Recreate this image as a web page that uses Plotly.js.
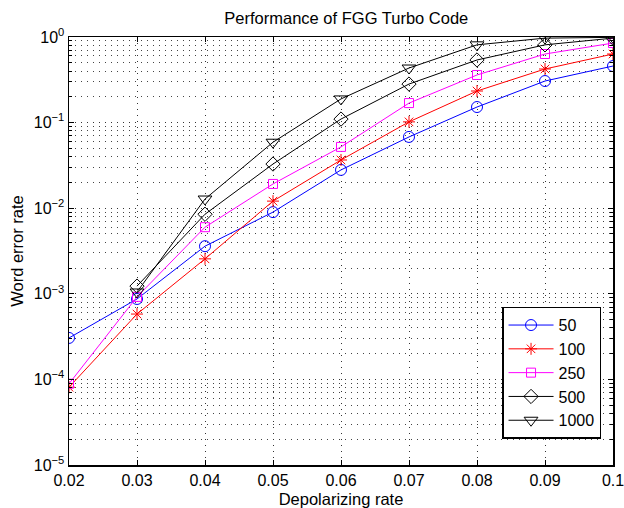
<!DOCTYPE html>
<html><head><meta charset="utf-8">
<script src="https://cdn.plot.ly/plotly-3.0.1.min.js"></script>
<style>body{margin:0;background:#fff}#c{width:624px;height:508px}</style>
</head><body><div id="c"></div>
<script>
var depolRate = [0.02, 0.03, 0.04, 0.05, 0.06, 0.07, 0.08, 0.09, 0.10];
var wer50   = [3.05e-4, 8.7e-4, 3.6e-3, 9.0e-3, 0.028, 0.068, 0.152, 0.306, 0.458];
var wer100  = [8.1e-5, 5.8e-4, 2.56e-3, 0.0121, 0.0366, 0.102, 0.234, 0.423, 0.633];
var wer250  = [8.9e-5, 9.2e-4, 6.0e-3, 0.0192, 0.052, 0.169, 0.36, 0.633, 0.85];
var wer500  = [null, 1.23e-3, 8.5e-3, 0.0328, 0.110, 0.282, 0.539, 0.81, 0.97];
var wer1000 = [null, 1.05e-3, 0.0128, 0.059, 0.189, 0.434, 0.81, 0.97, 0.99];
var seriesNames = ['50', '100', '250', '500', '1000'];
var xTickVals = [0.02, 0.03, 0.04, 0.05, 0.06, 0.07, 0.08, 0.09, 0.1];
var xTickText = ['0.02', '0.03', '0.04', '0.05', '0.06', '0.07', '0.08', '0.09', '0.1'];
var yTickVals = [1e-5, 1e-4, 1e-3, 1e-2, 1e-1, 1];
var yTickText = ['10<sup>−5</sup>', '10<sup>−4</sup>', '10<sup>−3</sup>', '10<sup>−2</sup>', '10<sup>−1</sup>', '10<sup>0</sup>'];

var styles = [
  {color: '#0000ff', symbol: 'circle-open', size: 11},
  {color: '#ff0000', symbol: 'asterisk-open', size: 10},
  {color: '#ff00ff', symbol: 'square-open', size: 9},
  {color: '#000000', symbol: 'diamond-open', size: 11},
  {color: '#000000', symbol: 'triangle-down-open', size: 12}
];
var ys = [wer50, wer100, wer250, wer500, wer1000];
var traces = ys.map(function (y, i) {
  return {
    x: depolRate, y: y, name: seriesNames[i], type: 'scatter', mode: 'lines+markers',
    connectgaps: false,
    line: {color: styles[i].color, width: 1},
    marker: {symbol: styles[i].symbol, size: styles[i].size, color: styles[i].color,
             line: {color: styles[i].color, width: 1}}
  };
});

var fontFam = 'Liberation Sans, Arial, Helvetica, sans-serif';
var gridDash = '1px,5px';
var layout = {
  width: 624, height: 508,
  margin: {l: 69, r: 11, t: 37, b: 43},
  paper_bgcolor: '#fff', plot_bgcolor: '#fff',
  font: {family: fontFam, size: 16, color: '#000'},
  title: {text: 'Performance of FGG Turbo Code', font: {size: 16.5, family: fontFam, color: '#000'},
          x: 0.555, xanchor: 'center', y: 0.975, yanchor: 'top'},
  showlegend: true,
  legend: {x: 0.978, xanchor: 'right', y: 0.37, yanchor: 'top',
           bgcolor: '#fff', bordercolor: '#000', borderwidth: 1.5,
           font: {size: 16, family: fontFam}, tracegroupgap: 0, itemwidth: 45},
  xaxis: {
    range: [0.02, 0.1], tickvals: xTickVals, ticktext: xTickText,
    ticklabeloverflow: 'allow',
    showline: true, linecolor: '#000', linewidth: 1.5, mirror: 'allticks',
    ticks: 'inside', ticklen: 5, tickcolor: '#000',
    showgrid: true, gridcolor: '#333', griddash: gridDash, gridwidth: 1,
    zeroline: false,
    title: {text: 'Depolarizing rate', font: {size: 16.5}, standoff: 11},
    tickfont: {size: 16}
  },
  yaxis: {
    type: 'log', range: [-5, 0], tickvals: yTickVals, ticktext: yTickText,
    ticklabeloverflow: 'allow',
    showline: true, linecolor: '#000', linewidth: 1.5, mirror: 'allticks',
    ticks: 'inside', ticklen: 5, tickcolor: '#000',
    showgrid: true, gridcolor: '#333', griddash: gridDash, gridwidth: 1,
    zeroline: false,
    minor: {dtick: 'D1', ticks: 'inside', ticklen: 3, tickcolor: '#000', showgrid: true,
            gridcolor: '#444', griddash: gridDash, gridwidth: 1},
    title: {text: 'Word error rate', font: {size: 16.5}, standoff: 6},
    tickfont: {size: 16}
  }
};
Plotly.newPlot('c', traces, layout, {staticPlot: true});
</script></body></html>
